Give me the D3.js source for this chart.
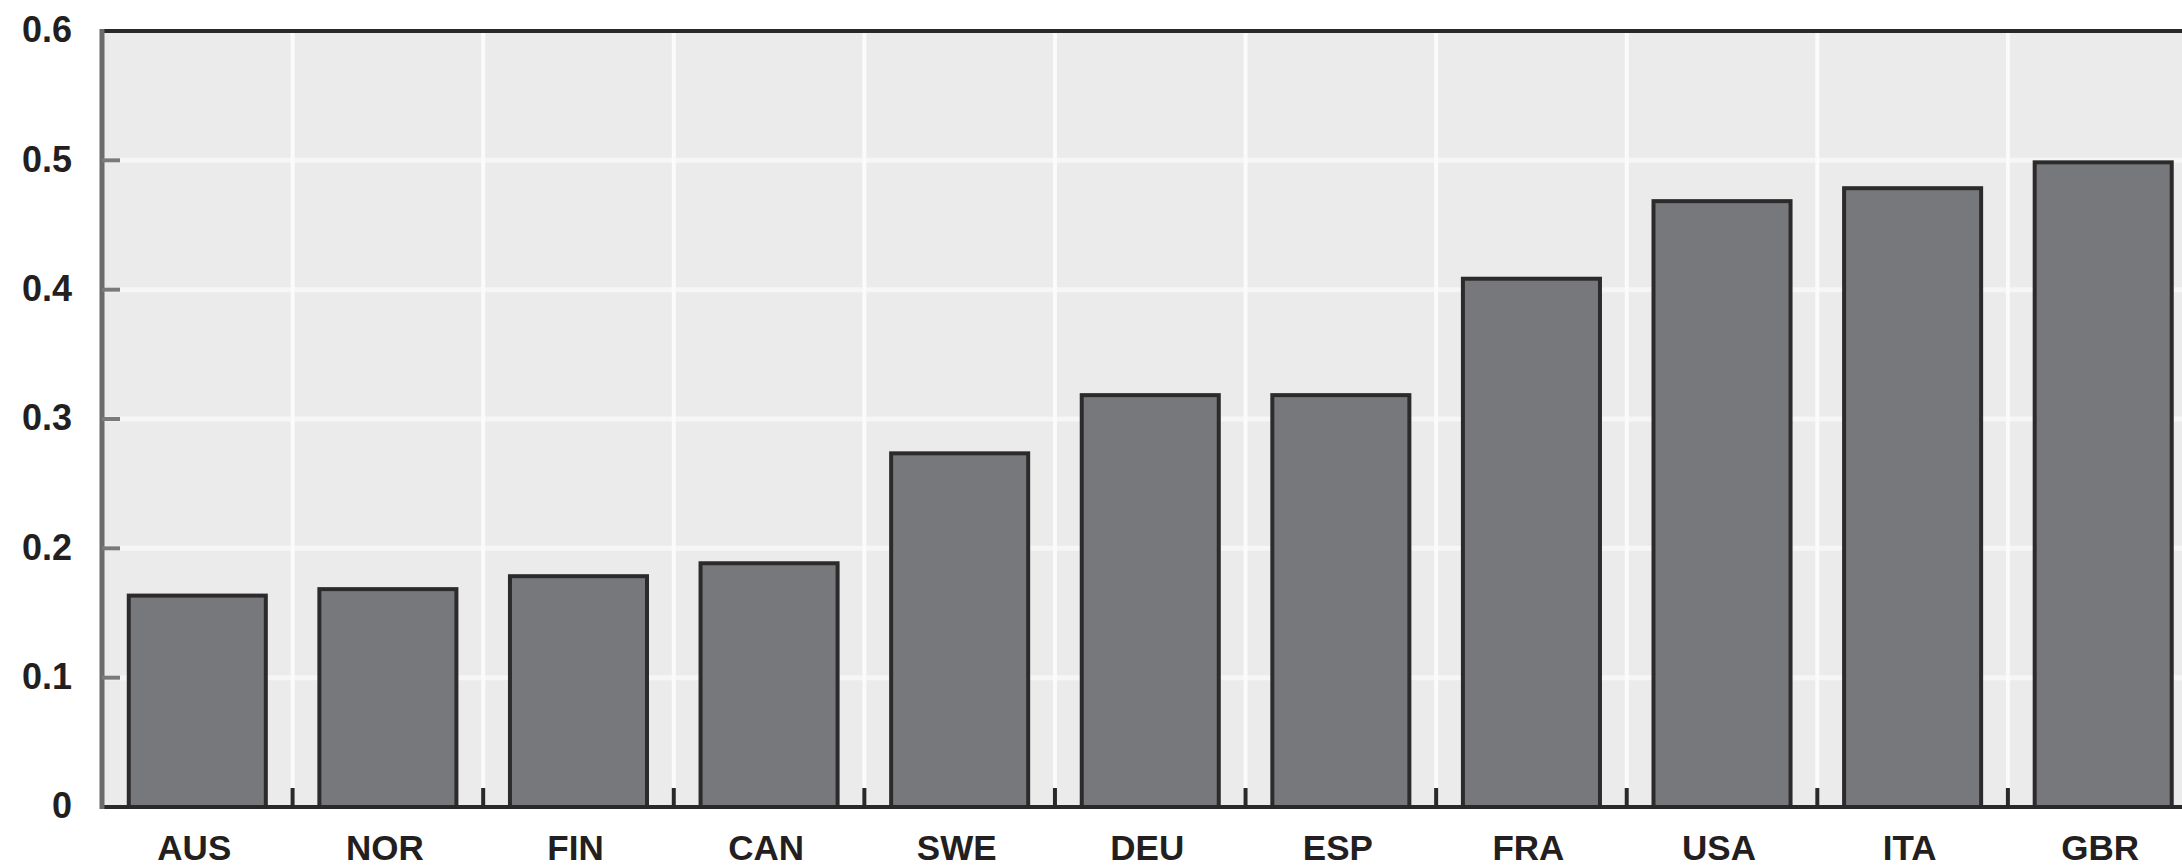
<!DOCTYPE html>
<html>
<head>
<meta charset="utf-8">
<script src="https://cdn.jsdelivr.net/npm/d3@7"></script>
<style>
  html, body { margin: 0; padding: 0; background: #ffffff; }
  svg { display: block; }
  text { font-family: "Liberation Sans", Arial, sans-serif; font-weight: bold; fill: #231f20; }
</style>
</head>
<body>
<script>
const categories = ["AUS", "NOR", "FIN", "CAN", "SWE", "DEU", "ESP", "FRA", "USA", "ITA", "GBR"];
const values = [0.165, 0.17, 0.18, 0.19, 0.275, 0.32, 0.32, 0.41, 0.47, 0.48, 0.50];
const yTicks = [0, 0.1, 0.2, 0.3, 0.4, 0.5, 0.6];
const yTickLabels = ["0", "0.1", "0.2", "0.3", "0.4", "0.5", "0.6"];

(function () {
const W = 2182, H = 868;
const pLeft = 102, pRight = 2198.5, pTop = 31, pBottom = 807;

const svg = d3.select("body").append("svg").attr("width", W).attr("height", H);

const x = d3.scaleBand().domain(categories).range([pLeft, pRight]).paddingInner(0.26).paddingOuter(0.13);
const y = d3.scaleLinear().domain([0, 0.6]).range([pBottom, pTop]);

// plot background
svg.append("rect").attr("x", pLeft).attr("y", pTop).attr("width", W - pLeft).attr("height", pBottom - pTop).attr("fill", "#ebebeb");

// horizontal gridlines
svg.append("g").selectAll("line").data(yTicks.filter(d => d > 0 && d < 0.6)).join("line")
  .attr("x1", pLeft).attr("x2", W)
  .attr("y1", d => y(d)).attr("y2", d => y(d))
  .attr("stroke", "#f6f6f6").attr("stroke-width", 5);

// vertical gridlines at band boundaries
const gap = (x.step() - x.bandwidth()) / 2;
const bounds = categories.slice(1).map(c => x(c) - gap);
svg.append("g").selectAll("line").data(bounds).join("line")
  .attr("x1", d => d).attr("x2", d => d)
  .attr("y1", pTop).attr("y2", pBottom)
  .attr("stroke", "#fbfbfb").attr("stroke-width", 4);

// bottom ticks
svg.append("g").selectAll("line").data(bounds).join("line")
  .attr("x1", d => d).attr("x2", d => d)
  .attr("y1", pBottom - 19).attr("y2", pBottom)
  .attr("stroke", "#2a2829").attr("stroke-width", 4);

// bars
svg.append("g").selectAll("rect").data(categories).join("rect")
  .attr("x", (d) => x(d) + 2)
  .attr("width", x.bandwidth() - 4)
  .attr("y", (d, i) => y(values[i]) + 2)
  .attr("height", (d, i) => pBottom - y(values[i]) - 2)
  .attr("fill", "#77787c")
  .attr("stroke", "#2c2a2b").attr("stroke-width", 4);

// top border
svg.append("line").attr("x1", pLeft).attr("x2", W).attr("y1", pTop).attr("y2", pTop)
  .attr("stroke", "#2b2829").attr("stroke-width", 4);

// bottom axis line
svg.append("line").attr("x1", pLeft).attr("x2", W).attr("y1", pBottom).attr("y2", pBottom)
  .attr("stroke", "#2a2829").attr("stroke-width", 4);

// left axis via d3.axisLeft
const yAxis = d3.axisLeft(y).tickValues(yTicks).tickFormat((d, i) => yTickLabels[i]).tickSize(0).tickPadding(30);
const gy = svg.append("g").attr("transform", `translate(${pLeft},0)`).call(yAxis);
gy.select(".domain").remove();
gy.selectAll("text").attr("font-size", 36).attr("font-family", "Liberation Sans, Arial, sans-serif")
  .attr("font-weight", "bold").attr("fill", "#231f20").attr("dy", "0.3em");

// left axis line
svg.append("line").attr("x1", pLeft).attr("x2", pLeft).attr("y1", pTop - 2).attr("y2", pBottom + 2)
  .attr("stroke", "#6b6b6b").attr("stroke-width", 5);
// left inward ticks
svg.append("g").selectAll("line").data(yTicks.filter(d => d > 0 && d < 0.6)).join("line")
  .attr("x1", pLeft).attr("x2", pLeft + 18)
  .attr("y1", d => y(d)).attr("y2", d => y(d))
  .attr("stroke", "#7a7a7a").attr("stroke-width", 4);

// x axis labels
const xAxis = d3.axisBottom(x).tickSize(0).tickPadding(0);
const gx = svg.append("g").attr("transform", `translate(0,${pBottom})`).call(xAxis);
gx.select(".domain").remove();
gx.selectAll("text").attr("font-size", 35).attr("font-family", "Liberation Sans, Arial, sans-serif")
  .attr("font-weight", "bold").attr("fill", "#231f20").attr("y", 53).attr("dy", 0).attr("dx", -3);
})();
</script>
</body>
</html>
